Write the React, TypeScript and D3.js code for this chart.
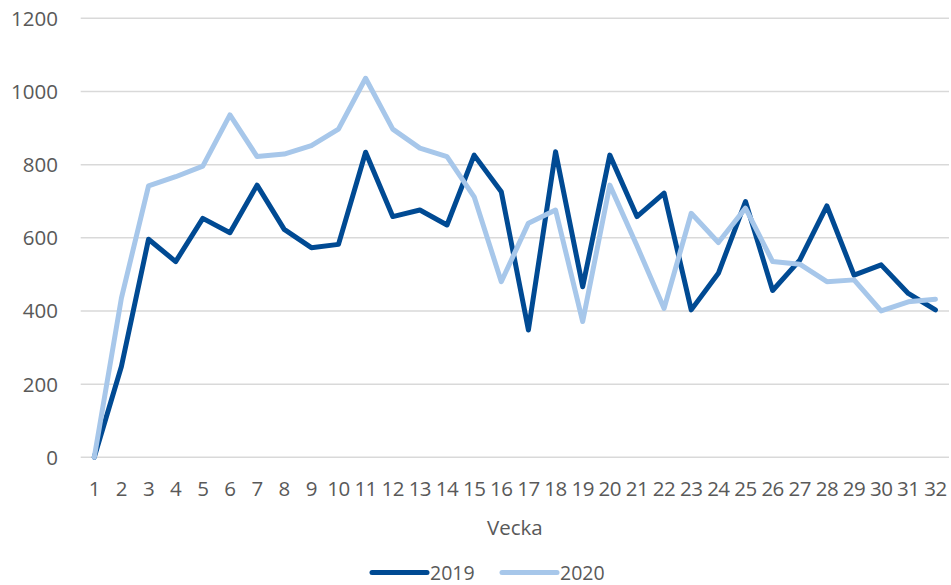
import React, { useEffect, useRef } from 'react'
import * as d3 from 'd3'

const weeks = d3.range(1, 33).map(String)
const values2019 = [0, 248, 596, 535, 653, 614, 744, 623, 573, 582, 834, 658, 676, 635, 826, 726, 348, 835, 466, 826, 658, 722, 403, 503, 699, 456, 539, 687, 498, 526, 448, 403]
const values2020 = [0, 435, 742, 767, 796, 936, 822, 829, 852, 897, 1036, 897, 845, 822, 712, 480, 640, 676, 371, 744, 578, 407, 667, 587, 681, 535, 528, 480, 485, 400, 425, 432]
const yTicks = [0, 200, 400, 600, 800, 1000, 1200]
const seriesNames = ['2019', '2020']
const colors = ['#004A93', '#A7C7EA']

export default function App() {
  const ref = useRef<SVGSVGElement>(null)

  useEffect(() => {
    const width = 951, height = 585
    const svg = d3.select(ref.current)
    svg.selectAll('*').remove()
    svg.attr('width', width).attr('height', height)

    const font = "'Open Sans', sans-serif"
    const textColor = '#595959'

    const x = d3.scalePoint<string>()
      .domain(weeks)
      .range([80.7, 949])
      .padding(0.5)
    const y = d3.scaleLinear()
      .domain([0, 1200])
      .range([457.3, 18.3])

    // gridlines + y labels
    svg.append('g')
      .selectAll('line')
      .data(yTicks)
      .join('line')
      .attr('x1', 80.7)
      .attr('x2', 949)
      .attr('y1', d => y(d))
      .attr('y2', d => y(d))
      .attr('stroke', '#D9D9D9')
      .attr('stroke-width', 1.5)

    svg.append('g')
      .selectAll('text')
      .data(yTicks)
      .join('text')
      .attr('x', 58)
      .attr('y', d => y(d))
      .attr('dy', '0.36em')
      .attr('text-anchor', 'end')
      .attr('font-family', font)
      .attr('font-size', 20.5)
      .attr('fill', textColor)
      .text(d => d)

    // x labels
    svg.append('g')
      .selectAll('text')
      .data(weeks)
      .join('text')
      .attr('x', d => x(d)!)
      .attr('y', 496)
      .attr('text-anchor', 'middle')
      .attr('font-family', font)
      .attr('font-size', 20.5)
      .attr('letter-spacing', -0.5)
      .attr('fill', textColor)
      .text(d => d)

    svg.append('text')
      .attr('x', 514.8)
      .attr('y', 535)
      .attr('text-anchor', 'middle')
      .attr('font-family', font)
      .attr('font-size', 20.5)
      .attr('fill', textColor)
      .text('Vecka')

    const line = d3.line<number>()
      .x((_, i) => x(weeks[i])!)
      .y(d => y(d))

    const allSeries = [values2019, values2020]
    allSeries.forEach((vals, i) => {
      svg.append('path')
        .datum(vals)
        .attr('d', line)
        .attr('fill', 'none')
        .attr('stroke', colors[i])
        .attr('stroke-width', 5)
        .attr('stroke-linejoin', 'round')
        .attr('stroke-linecap', 'round')
    })

    // legend
    const legendX = [372, 502]
    seriesNames.forEach((name, i) => {
      svg.append('line')
        .attr('x1', legendX[i])
        .attr('x2', legendX[i] + 55)
        .attr('y1', 572.5)
        .attr('y2', 572.5)
        .attr('stroke', colors[i])
        .attr('stroke-width', 5)
        .attr('stroke-linecap', 'round')
      svg.append('text')
        .attr('x', legendX[i] + 58)
        .attr('y', 579.5)
        .attr('font-family', font)
        .attr('font-size', 19.5)
        .attr('fill', textColor)
        .text(name)
    })
  }, [])

  return (
    <div style={{ position: 'absolute', left: 0, top: 0 }}>
      <svg ref={ref}></svg>
    </div>
  )
}
